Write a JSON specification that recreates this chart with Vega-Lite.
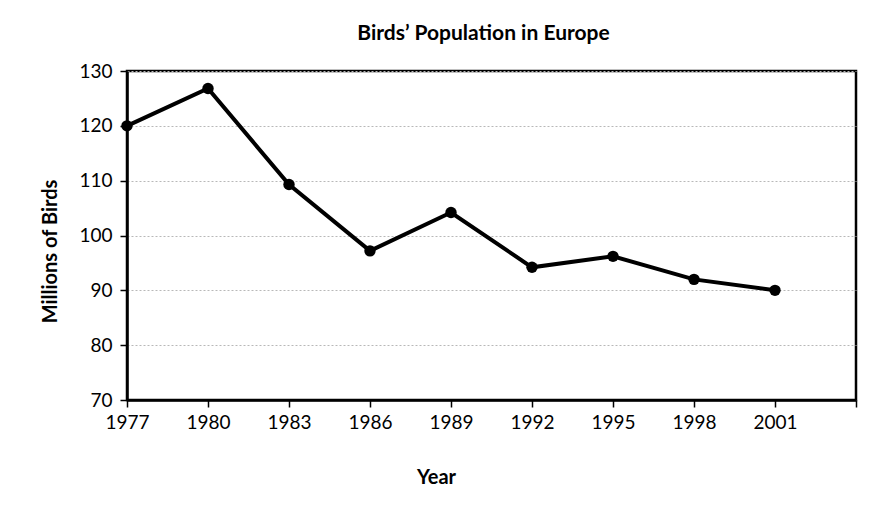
{
  "$schema": "https://vega.github.io/schema/vega-lite/v6.json",
  "autosize": "none",
  "width": 729,
  "height": 329,
  "padding": {"left": 127, "top": 71, "right": 35, "bottom": 111},
  "background": "white",
  "title": {
    "text": "Birds’ Population in Europe",
    "font": "Lato",
    "fontSize": 21,
    "fontWeight": "bold",
    "color": "#000",
    "anchor": "middle",
    "dx": -8,
    "offset": 18
  },
  "config": {
    "view": {"stroke": "#000", "strokeWidth": 2.5},
    "axis": {
      "labelFont": "Lato",
      "labelFontSize": 19,
      "labelColor": "#000",
      "titleFont": "Lato",
      "titleFontSize": 20,
      "titleFontWeight": "bold",
      "titleColor": "#000",
      "domainColor": "#000",
      "domainWidth": 2.5,
      "tickColor": "#000",
      "tickWidth": 1.5,
      "tickSize": 7
    }
  },
  "data": {
    "values": [
      {"year": 1977, "birds": 120},
      {"year": 1980, "birds": 126.8},
      {"year": 1983, "birds": 109.3},
      {"year": 1986, "birds": 97.2},
      {"year": 1989, "birds": 104.2},
      {"year": 1992, "birds": 94.2},
      {"year": 1995, "birds": 96.2},
      {"year": 1998, "birds": 92},
      {"year": 2001, "birds": 90}
    ]
  },
  "encoding": {
    "x": {
      "field": "year",
      "type": "quantitative",
      "scale": {"domain": [1977, 2004], "nice": false, "zero": false},
      "axis": {
        "title": "Year",
        "values": [1977, 1980, 1983, 1986, 1989, 1992, 1995, 1998, 2001, 2004],
        "labelExpr": "datum.value == 2004 ? '' : datum.label",
        "format": "d",
        "grid": false,
        "labelPadding": 6,
        "labelFlush": false,
        "labelOverlap": false,
        "titleX": 309,
        "titleY": 77,
        "titleBaseline": "middle",
        "titleAnchor": null
      }
    },
    "y": {
      "field": "birds",
      "type": "quantitative",
      "scale": {"domain": [70, 130], "nice": false, "zero": false},
      "axis": {
        "title": "Millions of Birds",
        "values": [70, 80, 90, 100, 110, 120, 130],
        "grid": true,
        "gridColor": "#b8b8b8",
        "gridDash": [2, 2],
        "gridWidth": 1,
        "labelPadding": 8,
        "titleX": -77,
        "titleY": 180,
        "titleAngle": -90,
        "titleBaseline": "middle",
        "titleAlign": "center"
      }
    }
  },
  "layer": [
    {"mark": {"type": "line", "color": "#000", "strokeWidth": 4}},
    {"mark": {"type": "point", "filled": true, "color": "#000", "opacity": 1, "size": 130}}
  ]
}
